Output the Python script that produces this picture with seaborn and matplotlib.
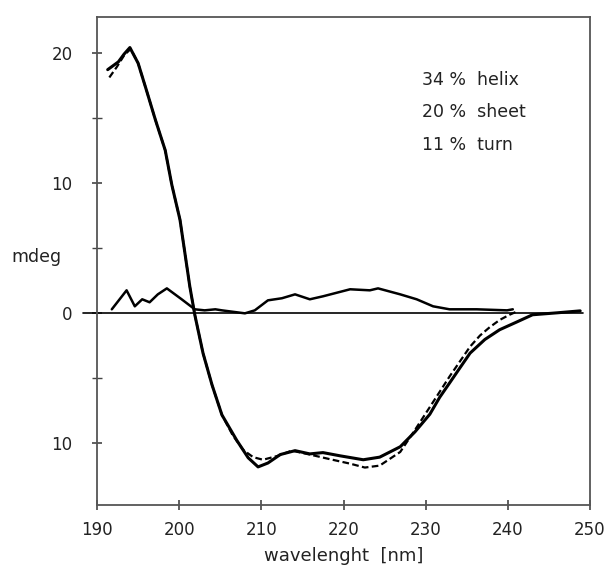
import numpy as np
import pandas as pd
import matplotlib
matplotlib.use('Agg')
import matplotlib.pyplot as plt
import seaborn as sns

# izmjereni CD spektar (puna linija)
wl_meas = [191.3, 192.6, 193.3, 194.0, 195.0, 196.0, 197.1, 198.3, 199.1, 200.1,
           201.3, 201.9, 202.9, 204.0, 205.2, 207.0, 208.4, 209.6, 210.8, 212.3,
           214.1, 215.9, 217.5, 219.6, 222.4, 224.4, 226.9, 228.7, 230.5, 231.7,
           232.9, 234.2, 235.4, 237.2, 239.0, 241.1, 243.0, 246.0, 248.8]
cd_meas = [18.7, 19.3, 19.9, 20.4, 19.2, 17.15, 14.85, 12.5, 9.85, 7.15,
           2.0, -0.15, -3.1, -5.55, -7.85, -9.8, -11.15, -11.85, -11.55, -10.9,
           -10.6, -10.85, -10.75, -11.0, -11.3, -11.1, -10.3, -9.15, -7.8, -6.5,
           -5.4, -4.2, -3.1, -2.05, -1.3, -0.7, -0.15, 0.0, 0.15]

# fit (isprekidana linija)
wl_fit = [191.5, 192.4, 193.3, 194.1, 195.0, 196.0, 197.1, 198.3, 199.1, 200.1,
          201.3, 201.9, 202.9, 204.0, 205.2, 206.5, 207.8, 209.0, 210.2, 212.0,
          213.7, 215.9, 218.3, 220.8, 222.6, 224.4, 226.9, 228.7, 230.5, 232.9,
          235.4, 236.6, 237.8, 239.0, 240.2, 241.1]
cd_fit = [18.1, 18.9, 19.8, 20.3, 19.2, 17.15, 14.85, 12.5, 9.85, 7.15,
          2.0, -0.15, -3.1, -5.55, -7.85, -9.4, -10.55, -11.1, -11.3, -11.0,
          -10.6, -10.9, -11.25, -11.6, -11.9, -11.75, -10.7, -9.0, -7.25, -4.9,
          -2.6, -1.75, -1.1, -0.55, -0.15, 0.1]

# razlika
wl_res = [191.8, 193.6, 194.6, 195.5, 196.4, 197.4, 198.5, 200.3, 201.9, 203.1,
          204.4, 205.2, 208.0, 209.2, 210.8, 212.5, 214.1, 215.9, 217.5, 220.8,
          223.2, 224.2, 226.9, 228.9, 230.9, 232.9, 236.2, 239.9, 240.6]
cd_res = [0.27, 1.73, 0.5, 1.04, 0.81, 1.42, 1.88, 1.04, 0.27, 0.19,
          0.27, 0.19, -0.04, 0.19, 0.96, 1.12, 1.42, 1.04, 1.27, 1.81,
          1.73, 1.88, 1.42, 1.04, 0.5, 0.27, 0.27, 0.19, 0.27]

x_ticks = [190, 200, 210, 220, 230, 240, 250]
y_ticks = [-10, 0, 10, 20]
y_tick_labels = ['10', '0', '10', '20']
y_minor = [-5, 5, 15]
struktura = ['34 %  helix', '20 %  sheet', '11 %  turn']

df_meas = pd.DataFrame({'wl': wl_meas, 'cd': cd_meas})
df_fit = pd.DataFrame({'wl': wl_fit, 'cd': cd_fit})
df_res = pd.DataFrame({'wl': wl_res, 'cd': cd_res})

sns.set_style('white')
plt.rcParams['font.family'] = ['DejaVu Sans']

fig = plt.figure(figsize=(6.14, 5.77), dpi=100)
ax = fig.add_axes([0.158, 0.125, 0.803, 0.846])

sns.lineplot(data=df_meas, x='wl', y='cd', ax=ax, color='black', lw=2.2, sort=False)
sns.lineplot(data=df_fit, x='wl', y='cd', ax=ax, color='black', lw=1.6,
             linestyle=(0, (3, 1.5)), sort=False)
sns.lineplot(data=df_res, x='wl', y='cd', ax=ax, color='black', lw=1.8, sort=False)

ax.axhline(0, xmin=-0.028, xmax=0.986, color='black', lw=1.2, clip_on=False)

ax.set_xlim(190, 250)
ax.set_ylim(-14.77, 22.77)
ax.set_xticks(x_ticks)
ax.set_yticks(y_ticks, labels=y_tick_labels)
ax.set_yticks(y_minor, minor=True)

ax.tick_params(axis='both', which='both', direction='inout', color='#444444',
               labelsize=12, labelcolor='#222222', bottom=True, left=True)
ax.tick_params(axis='x', which='major', length=7, width=1.2, pad=8)
ax.tick_params(axis='y', which='major', length=7, width=1.2, pad=14)
ax.tick_params(axis='y', which='minor', length=7, width=1.0)

for sp in ax.spines.values():
    sp.set_color('#555555')
    sp.set_linewidth(1.3)

ax.set_xlabel('wavelenght  [nm]', fontsize=13, color='#222222', labelpad=6)
ax.set_ylabel('mdeg', fontsize=12.5, color='#222222', rotation=0, ha='center', va='center')
ax.yaxis.set_label_coords(-0.122, 0.508)

for i, txt in enumerate(struktura):
    ax.text(0.66, 0.87 - i * 0.066, txt, transform=ax.transAxes, fontsize=12.5,
            color='#222222', ha='left', va='center')

fig.savefig('out.png', dpi=100)
